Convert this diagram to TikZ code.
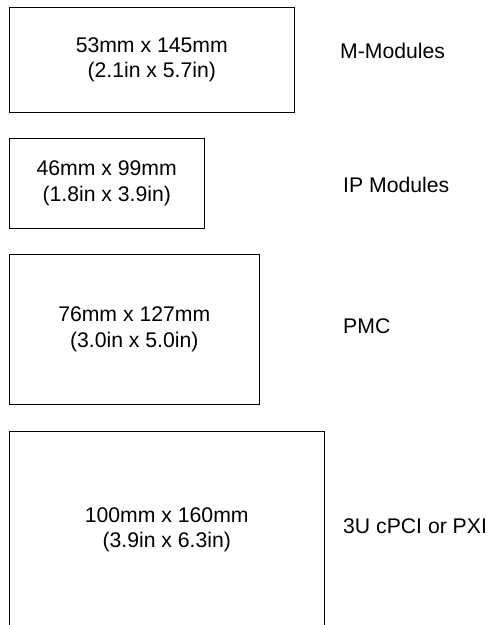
\documentclass[tikz,border=0pt]{standalone}
\usepackage{fontspec}
\setmainfont{Liberation Sans}
\tikzset{
  board/.style={draw,line width=1pt,inner sep=0pt,anchor=north west,align=center,
    font=\fontsize{21.2}{25.5}\selectfont},
  boardname/.style={anchor=west,inner sep=0pt,font=\fontsize{21.2}{25.5}\selectfont}
}
\begin{document}
\begin{tikzpicture}[x=1pt,y=-1pt]
\useasboundingbox (0,0) rectangle (488,625);
\clip (0,0) rectangle (488,625);
% boards, drawn to scale
\node[board,minimum width=285.5pt,minimum height=105pt] (mmod) at (8.5,7) {53mm x 145mm\\(2.1in x 5.7in)};
\node[board,minimum width=195.5pt,minimum height=90pt] (ipmod) at (8.5,138) {46mm x 99mm\\(1.8in x 3.9in)};
\node[board,minimum width=250.5pt,minimum height=150pt] (pmc) at (8.5,254) {76mm x 127mm\\(3.0in x 5.0in)};
\node[board,minimum width=315.5pt,minimum height=197pt] (cpci) at (8.5,431) {100mm x 160mm\\(3.9in x 6.3in)};
% names
\node[boardname] (mmodname) at (340,51) {M-Modules};
\node[boardname] (ipmodname) at (343,185) {IP Modules};
\node[boardname] (pmcname) at (343,326) {PMC};
\node[boardname] (cpciname) at (343,526) {3U cPCI or PXI};
\end{tikzpicture}
\end{document}
